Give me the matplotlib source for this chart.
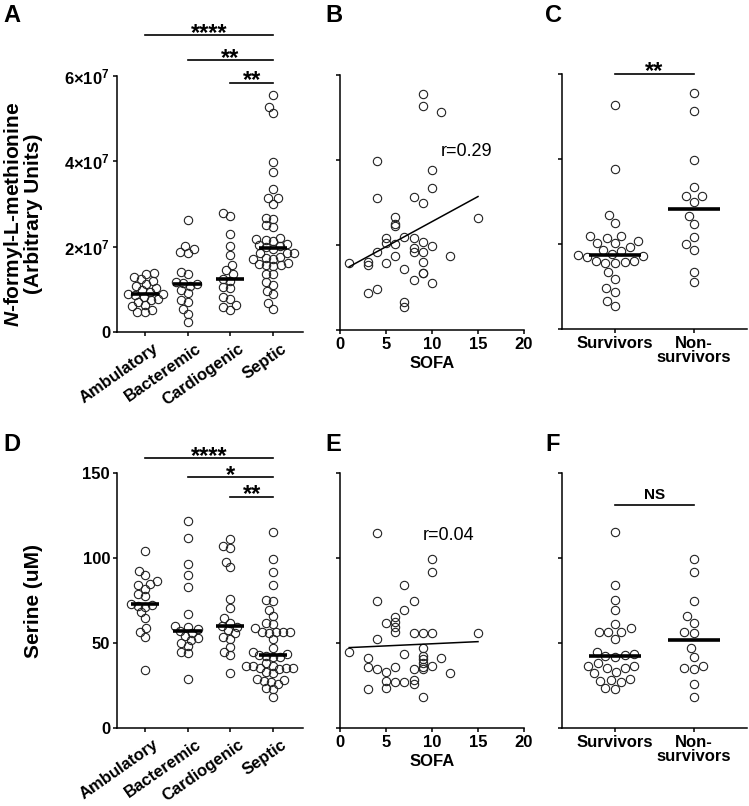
import numpy as np
import matplotlib as mpl
import matplotlib.pyplot as plt
from matplotlib.transforms import ScaledTranslation, offset_copy

mpl.rcParams['font.family'] = ['Liberation Sans', 'DejaVu Sans']
mpl.rcParams['font.weight'] = 'bold'
mpl.rcParams['axes.labelweight'] = 'bold'
mpl.rcParams['mathtext.fontset'] = 'custom'
mpl.rcParams['mathtext.rm'] = 'Liberation Sans:bold'
mpl.rcParams['mathtext.it'] = 'Liberation Sans:bold:italic'
mpl.rcParams['mathtext.bf'] = 'Liberation Sans:bold'

# ---- data ----
groups = ['Ambulatory', 'Bacteremic', 'Cardiogenic', 'Septic']
outcomes = ['Survivors', 'Non-\nsurvivors']

# N-formyl-L-methionine, units of 1e7
amb_fmet = [1.38, 1.35, 1.28, 1.24, 1.20, 1.12, 1.08, 1.02, 0.98, 0.94, 0.90,
            0.88, 0.86, 0.82, 0.78, 0.74, 0.70, 0.64, 0.60, 0.52, 0.48, 0.46]
bact_fmet = [2.62, 2.01, 1.95, 1.88, 1.85, 1.41, 1.36, 1.18, 1.14, 1.12, 1.08,
             0.98, 0.92, 0.75, 0.70, 0.55, 0.42, 0.23]
card_fmet = [2.78, 2.72, 2.30, 2.02, 1.80, 1.57, 1.45, 1.36, 1.24, 1.20, 1.06,
             1.02, 0.83, 0.78, 0.63, 0.58, 0.52]
surv_fmet = [5.27, 3.76, 2.68, 2.50, 2.20, 2.18, 2.14, 2.07, 2.03, 2.02, 1.94,
             1.86, 1.84, 1.76, 1.74, 1.72, 1.70, 1.61, 1.60, 1.58, 1.56, 1.55,
             1.35, 1.18, 0.97, 0.88, 0.67, 0.55]
nonsurv_fmet = [5.56, 5.13, 3.98, 3.34, 3.13, 3.13, 3.00, 2.66, 2.47, 2.16,
                1.99, 1.85, 1.35, 1.11]
septic_fmet = surv_fmet + nonsurv_fmet

# Serine (uM)
amb_ser = [104, 92.5, 90, 86.5, 85, 84, 82, 78.6, 77.6, 73, 72.5, 72, 71.4,
           68, 64.5, 59, 56.7, 53.7, 34.1]
bact_ser = [121.8, 111.6, 96.3, 90, 82.7, 67.1, 60, 59.5, 58.5, 57.1, 56, 54,
            53, 51.8, 49.8, 48.2, 44.9, 43.9, 28.6]
card_ser = [111, 107, 106, 97.8, 94.5, 75.9, 70.4, 64.5, 62, 59.8, 59.6, 57.5,
            55.7, 53.3, 52.5, 47.8, 44.9, 42.9, 32.2]
surv_ser = [115.1, 84.1, 75.3, 69.4, 61, 58.6, 56.5, 56.5, 56.5, 52.4, 44.9,
            43.3, 42.9, 42.5, 42.0, 38.0, 36.7, 36.5, 35.5, 35.1, 33.1, 32.2,
            29.0, 28.2, 27.8, 27.3, 23.3, 22.9]
nonsurv_ser = [99.2, 92, 74.9, 65.9, 62, 56.3, 55.7, 47.3, 42, 36.7, 35.1,
               34.7, 25.9, 18.0]
septic_ser = surv_ser + nonsurv_ser

# SOFA correlations
sofa_b = [9, 9, 11, 4, 10, 10, 4, 8, 9, 15, 6, 6, 6, 5, 5, 7, 6, 8, 8, 8, 9,
          10, 4, 9, 1, 3, 3, 5, 6, 9, 12, 7, 9, 9, 8, 10, 3, 4, 7, 7]
fmet_b = [5.55, 5.27, 5.12, 3.97, 3.76, 3.33, 3.11, 3.12, 2.98, 2.64, 2.67,
          2.49, 2.45, 2.16, 2.04, 2.20, 2.02, 2.16, 1.92, 1.84, 2.06, 1.98,
          1.84, 1.84, 1.57, 1.61, 1.53, 1.57, 1.73, 1.61, 1.73, 1.43, 1.35,
          1.33, 1.18, 1.10, 0.88, 0.96, 0.67, 0.53]
fit_b = (0.118, 1.37)   # slope, intercept (1e7 units)
r_b = 'r=0.29'

sofa_e = [4, 10, 10, 7, 4, 8, 7, 6, 5, 6, 6, 6, 8, 9, 10, 15, 4, 1, 9, 3, 7,
          9, 9, 9, 9, 9, 11, 3, 4, 5, 6, 8, 10, 12, 5, 6, 7, 8, 8, 3, 5, 9]
ser_e = [114.9, 99.2, 92, 84.1, 74.9, 74.9, 69.4, 65.5, 61.6, 62.5, 59.6,
         56.7, 56.1, 56.1, 56.1, 56.1, 52.2, 44.9, 46.9, 41.4, 43.3, 42.4,
         40.4, 38.0, 36.1, 34.5, 41.4, 36.1, 34.5, 33.1, 35.7, 34.9, 36.5,
         32.2, 27.8, 27.3, 27.3, 28.2, 25.9, 22.7, 23.3, 18.0]
fit_e = (0.25, 47.05)
r_e = 'r=0.04'

comp_A = [(0, 3, '****'), (1, 3, '**'), (2, 3, '**')]
comp_D = [(0, 3, '****'), (1, 3, '*'), (2, 3, '**')]

# ---- figure ----
W, H = 749, 806
fig = plt.figure(figsize=(W / 100, H / 100), dpi=100)


def box(l, t, r, b):
    return [l / W, 1 - b / H, (r - l) / W, (b - t) / H]


def style(ax):
    for s in ['top', 'right']:
        ax.spines[s].set_visible(False)
    for s in ['left', 'bottom']:
        ax.spines[s].set_linewidth(1.1)
    ax.tick_params(width=1.1, length=3.0, labelsize=12, pad=2)


def swarm_offsets(ax, x0, vals, d=6.0):
    ypx = ax.transData.transform(np.column_stack([np.full(len(vals), x0), vals]))[:, 1]
    unit = ax.transData.transform((1, 0))[0] - ax.transData.transform((0, 0))[0]
    cands = sorted(np.arange(-60, 60.25, 0.5), key=lambda c: (abs(c), c))
    px, py = [], []
    off = np.zeros(len(vals))
    for i in np.argsort(ypx):
        for c in cands:
            ok = all((c - a) ** 2 + (ypx[i] - b) ** 2 >= d * d for a, b in zip(px, py))
            if ok:
                break
        px.append(c)
        py.append(ypx[i])
        off[i] = c / unit
    return off


def dot_panel(ax, data, ylim, d=6.0):
    ax.set_xlim(-0.65, len(data) - 1 + 0.7)
    ax.set_ylim(*ylim)
    for i, v in enumerate(data):
        v = np.asarray(v, dtype=float)
        dx = swarm_offsets(ax, i, v, d)
        ax.plot(i + dx, v, 'o', ms=6, mfc='none', mec='#222222', mew=0.8,
                clip_on=False, zorder=3)
        ax.hlines(np.median(v), i - 0.33, i + 0.33, color='black', lw=2.6, zorder=4)


def sig_bars(ax, comps, levels, fs=17):
    for (i, j, s), y in zip(comps, levels):
        ax.plot([i, j], [y, y], color='black', lw=1.2, clip_on=False)
        tr = offset_copy(ax.transData, fig=fig, y=-4.5, units='dots')
        ax.text((i + j) / 2, y, s, ha='center', va='baseline', fontsize=fs,
                transform=tr, clip_on=False)


def rotate_labels(ax):
    for lab in ax.get_xticklabels():
        lab.set_rotation(35)
        lab.set_ha('right')
        lab.set_rotation_mode('anchor')
        lab.set_transform(lab.get_transform() + ScaledTranslation(0.08, -0.02, fig.dpi_scale_trans))


def y_fmet_ticks(ax, labels=True):
    ticks = [0, 2e7, 4e7, 6e7]
    ax.set_yticks(ticks)
    if labels:
        ax.set_yticklabels(['0'] + [r'$%d{\times}10^{7}$' % (t / 1e7) for t in ticks[1:]])
    else:
        ax.set_yticklabels([])


# A
axA = fig.add_axes(box(117, 76, 303, 332))
style(axA)
dot_panel(axA, [np.array(v) * 1e7 for v in [amb_fmet, bact_fmet, card_fmet, septic_fmet]], (0, 6e7), d=7.2)
axA.set_xticks(range(4))
axA.set_xticklabels(groups)
rotate_labels(axA)
y_fmet_ticks(axA)
axA.set_ylabel('$\\mathit{N}$-formyl-L-methionine\n(Arbitrary Units)', fontsize=15,
               linespacing=0.95, va='center', fontweight='bold')
axA.yaxis.set_label_coords(-0.51, 0.46)
sig_bars(axA, comp_A, [6.96e7, 6.37e7, 5.84e7])

# B
axB = fig.add_axes(box(340, 75, 524, 330))
style(axB)
axB.set_xlim(0, 20)
axB.set_ylim(0, 6e7)
axB.plot(sofa_b, np.array(fmet_b) * 1e7, 'o', ms=6, mfc='none', mec='#222222', mew=0.8)
xs = np.array([min(sofa_b), max(sofa_b)])
axB.plot(xs, (fit_b[0] * xs + fit_b[1]) * 1e7, color='black', lw=1.1)
axB.text(10.9, 4.19e7, r_b, fontsize=13, fontweight='normal', va='center')
axB.set_xticks([0, 5, 10, 15, 20])
axB.set_xlabel('SOFA', fontsize=12, labelpad=3, fontweight='bold')
y_fmet_ticks(axB, labels=False)

# C
axC = fig.add_axes(box(562, 74, 747, 329))
style(axC)
dot_panel(axC, [np.array(v) * 1e7 for v in [surv_fmet, nonsurv_fmet]], (0, 6e7), d=9.4)
axC.set_xlim(-0.67, 1.67)
axC.set_xticks([0, 1])
axC.set_xticklabels(outcomes, linespacing=0.95)
y_fmet_ticks(axC, labels=False)
sig_bars(axC, [(0, 1, '**')], [6.0e7])

# D
axD = fig.add_axes(box(117, 473, 303, 728))
style(axD)
dot_panel(axD, [amb_ser, bact_ser, card_ser, septic_ser], (0, 150), d=7.0)
axD.set_xticks(range(4))
axD.set_xticklabels(groups)
rotate_labels(axD)
axD.set_yticks([0, 50, 100, 150])
axD.set_ylabel('Serine (uM)', fontsize=15, va='center', fontweight='bold')
axD.yaxis.set_label_coords(-0.45, 0.5)
sig_bars(axD, comp_D, [158.8, 147.6, 135.9])

# E
axE = fig.add_axes(box(340, 473, 524, 728))
style(axE)
axE.set_xlim(0, 20)
axE.set_ylim(0, 150)
axE.plot(sofa_e, ser_e, 'o', ms=6, mfc='none', mec='#222222', mew=0.8)
xs = np.array([min(sofa_e), max(sofa_e)])
axE.plot(xs, fit_e[0] * xs + fit_e[1], color='black', lw=1.1)
axE.text(9.0, 113, r_e, fontsize=13, fontweight='normal', va='center')
axE.set_xticks([0, 5, 10, 15, 20])
axE.set_xlabel('SOFA', fontsize=12, labelpad=3, fontweight='bold')
axE.set_yticks([0, 50, 100, 150])
axE.set_yticklabels([])

# F
axF = fig.add_axes(box(562, 473, 747, 728))
style(axF)
dot_panel(axF, [surv_ser, nonsurv_ser], (0, 150), d=9.4)
axF.set_xlim(-0.67, 1.67)
axF.set_xticks([0, 1])
axF.set_xticklabels(outcomes, linespacing=0.95)
axF.set_yticks([0, 50, 100, 150])
axF.set_yticklabels([])
for (i, j, s), y in zip([(0, 1, 'NS')], [131]):
    axF.plot([i, j], [y, y], color='black', lw=1.2)
    axF.text((i + j) / 2, y + 3.5, s, ha='center', va='baseline', fontsize=11)

# panel letters
for letter, x, y in [('A', 3, 22), ('B', 325, 22), ('C', 545, 22),
                     ('D', 3, 451), ('E', 325, 451), ('F', 545, 451)]:
    fig.text(x / W, 1 - y / H, letter, fontsize=17, fontweight='bold', va='baseline')

fig.savefig('out.png', dpi=100)
